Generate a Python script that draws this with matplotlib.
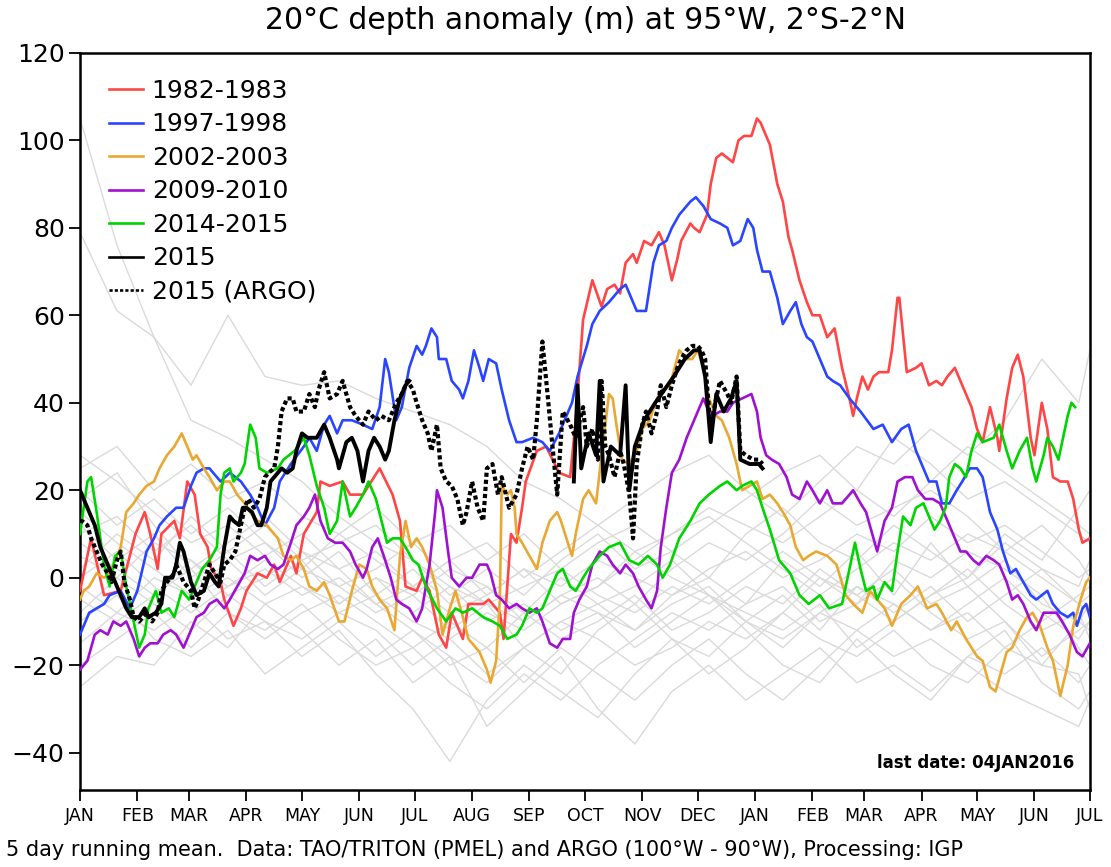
import numpy as np
import matplotlib
matplotlib.use("Agg")
import matplotlib.pyplot as plt
from matplotlib.lines import Line2D

# x axis: days since 1 Jan of the first year (18 months shown)
month_days = [0, 31, 59, 90, 120, 151, 181, 212, 243, 273, 304, 334,
              365, 396, 424, 455, 485, 516, 546]
month_labels = ["JAN", "FEB", "MAR", "APR", "MAY", "JUN", "JUL", "AUG", "SEP",
                "OCT", "NOV", "DEC", "JAN", "FEB", "MAR", "APR", "MAY", "JUN", "JUL"]

# ---- 1982-1983 ----
red_day = [0, 6, 13, 22, 30, 35, 38, 42, 44, 51, 54, 58, 62, 65, 69, 71, 76, 78, 83, 87,
           90, 96, 101, 105, 108, 114, 117, 121, 128, 130, 135, 142, 146, 153, 162, 169,
           173, 176, 182, 185, 189, 194, 198, 201, 207, 210, 218, 221, 227, 229, 233, 236,
           239, 241, 247, 252, 259, 265, 268, 272, 277, 282, 285, 289, 292, 295, 299, 301,
           305, 309, 313, 316, 320, 323, 325, 330, 332, 335, 339, 341, 344, 347, 353, 356,
           359, 363, 366, 368, 373, 377, 380, 383, 385, 389, 393, 396, 400, 404, 408, 412,
           416, 418, 420, 423, 426, 429, 432, 437, 439, 442, 443, 447, 452, 455, 459, 463,
           466, 469, 473, 477, 482, 485, 488, 492, 496, 497, 501, 504, 507, 510, 514, 516,
           520, 523, 526, 530, 534, 537, 540, 542, 546]
red_val = [-3, 9, -4, -3, 10, 15, 10, 2, 10, 13, 9, 22, 19, 10, 7, 2, -1, -5, -11, -7,
           -3, 1, 0, 3, -1, 5, 1, 10, 15, 22, 21, 22, 19, 19, 25, 19,
           13, -2, -3, 0, -3, -13, -16, -8, -14, -6, -6, -5, -8, -14, 10, 8,
           16, 22, 29, 30, 24, 23, 36, 59, 68, 62, 66, 67, 65, 72, 74, 72,
           77, 76, 79, 76, 68, 73, 77, 81, 80, 79, 83, 90, 96, 97, 95, 100,
           101, 101, 105, 104, 99, 90, 86, 78, 75, 68, 63, 60, 60, 55, 57, 48,
           41, 37, 41, 46, 43, 46, 47, 47, 52, 64, 64, 47, 48, 49, 44, 45,
           44, 46, 48, 44, 39, 34, 31, 39, 32, 29, 41, 48, 51, 46, 32, 28,
           40, 34, 23, 22, 22, 18, 11, 8, 9]

# ---- 1997-1998 ----
blue_day = [0, 5, 13, 16, 22, 27, 31, 36, 40, 43, 47, 52, 56, 60, 63, 67, 70, 76, 81, 87,
            92, 96, 100, 105, 108, 114, 121, 124, 128, 132, 135, 139, 142, 147, 153, 158,
            162, 165, 167, 171, 174, 178, 182, 185, 187, 190, 193, 194, 198, 201, 205, 207,
            210, 213, 216, 218, 221, 225, 228, 232, 236, 239, 245, 250, 254, 259, 263, 266,
            269, 274, 277, 281, 286, 292, 295, 298, 301, 306, 310, 313, 317, 320, 324, 330,
            333, 337, 341, 346, 350, 353, 357, 361, 364, 366, 369, 373, 377, 380, 384, 387,
            390, 393, 396, 400, 404, 407, 411, 416, 422, 429, 434, 439, 444, 448, 452, 456,
            459, 463, 466, 470, 474, 477, 481, 485, 488, 492, 496, 499, 503, 506, 510, 514,
            517, 523, 526, 530, 534, 537, 539, 542, 544, 546]
blue_val = [-13, -8, -6, -4, -3, -7, -3, 6, 9, 12, 14, 16, 16, 21, 24, 25, 25, 22, 24, 22,
            19, 16, 12, 16, 22, 26, 30, 32, 29, 35, 37, 33, 36, 36, 35, 34,
            39, 50, 47, 36, 39, 48, 53, 51, 53, 57, 55, 50, 50, 45, 43, 41,
            45, 52, 48, 45, 50, 49, 43, 36, 31, 31, 32, 31, 29, 33, 37, 40,
            46, 53, 58, 61, 63, 66, 67, 64, 61, 61, 72, 76, 77, 80, 83, 86,
            87, 85, 82, 81, 80, 76, 77, 82, 80, 75, 70, 70, 64, 58, 61, 63,
            58, 55, 54, 50, 46, 45, 44, 41, 38, 34, 35, 31, 34, 35, 29, 25,
            22, 22, 17, 17, 20, 22, 25, 25, 23, 15, 11, 6, 1, 2, -1, -4,
            -5, -3, -6, -8, -9, -8, -11, -7, -6, -9]

# ---- 2002-2003 ----
orange_day = [0, 2, 5, 9, 13, 16, 22, 25, 29, 32, 36, 40, 43, 47, 51, 55, 58, 61, 63, 67,
              70, 74, 78, 81, 85, 89, 92, 96, 101, 107, 110, 114, 117, 121, 124, 128, 132,
              135, 140, 143, 147, 151, 155, 158, 162, 166, 170, 173, 176, 179, 182, 185,
              189, 193, 196, 200, 203, 207, 210, 216, 220, 222, 225, 227, 228, 231, 233,
              235, 236, 239, 243, 247, 250, 254, 258, 260, 263, 266, 268, 272, 275, 279,
              282, 286, 288, 290, 293, 297, 301, 304, 308, 312, 315, 319, 324, 328, 331,
              334, 337, 340, 344, 347, 351, 355, 358, 362, 366, 369, 373, 377, 380, 384,
              387, 391, 394, 398, 404, 409, 414, 418, 423, 427, 431, 435, 439, 444, 449,
              453, 458, 463, 466, 471, 474, 479, 485, 488, 492, 495, 497, 501, 504, 508,
              512, 515, 519, 523, 526, 530, 534, 537, 541, 544, 546]
orange_val = [-5, -3, -2, 1, 0, 1, 7, 15, 17, 19, 21, 22, 25, 28, 30, 33, 30, 27, 28, 25,
              23, 20, 22, 22, 19, 17, 15, 13, 12, 9, 5, 4, 5, 2, -2, -3, -1,
              -4, -10, -10, -3, 3, 2, -2, -5, -7, -12, 5, 13, 7, 9, 7,
              3, -3, -13, -7, -3, -9, -14, -17, -21, -24, -19, -5, 21, 19, 20,
              16, 10, 8, 5, 2, 8, 13, 15, 13, 9, 5, 10, 18, 20, 17,
              28, 42, 41, 35, 27, 26, 29, 34, 36, 41, 43, 44, 52, 50, 50,
              52, 48, 41, 37, 36, 32, 26, 20, 21, 22, 18, 19, 17, 15, 12,
              7, 4, 5, 6, 5, 3, -4, -6, -8, -3, -5, -7, -11, -6, -4,
              -2, -7, -6, -8, -12, -10, -14, -18, -19, -25, -26, -23, -17, -16, -12,
              -9, -8, -11, -16, -19, -27, -20, -11, -5, -1, 0]

# ---- 2009-2010 ----
purple_day = [0, 4, 8, 11, 15, 18, 22, 25, 29, 32, 35, 38, 42, 45, 49, 52, 56, 60, 63, 67,
              70, 74, 78, 81, 85, 89, 92, 96, 100, 103, 107, 110, 114, 117, 121, 124, 127,
              130, 134, 138, 142, 146, 149, 153, 155, 158, 161, 165, 168, 171, 174, 178,
              182, 185, 189, 192, 193, 196, 199, 201, 205, 209, 212, 216, 220, 222, 225,
              228, 232, 236, 239, 243, 247, 250, 254, 258, 261, 265, 267, 270, 274, 277,
              281, 285, 288, 292, 295, 299, 302, 306, 309, 312, 314, 317, 320, 324, 328,
              332, 337, 339, 342, 346, 350, 353, 358, 363, 366, 368, 371, 374, 378, 382,
              385, 389, 393, 396, 400, 404, 407, 412, 418, 422, 425, 429, 431, 435, 439,
              442, 446, 450, 453, 457, 461, 465, 469, 472, 476, 479, 483, 486, 490, 494,
              497, 501, 504, 507, 510, 514, 517, 521, 524, 528, 531, 535, 539, 542, 546]
purple_val = [-21, -19, -13, -12, -13, -10, -11, -10, -14, -18, -16, -15, -15, -13, -12, -13,
              -16, -12, -9, -8, -6, -5, -7, -5, -2, 1, 5, 4, 5, 3, 2, 3, 8, 12, 14, 16, 19,
              13, 9, 8, 8, 6, 3, 0, 2, 7, 9, 4, 0, -5, -6, -7,
              -10, -7, 3, 15, 20, 16, 6, 0, -2, 0, 0, 3, 3, 1, -4,
              -5, -7, -6, -7, -8, -7, -10, -15, -16, -14, -14, -8, -5, -2, 3,
              6, 5, 3, 1, 3, 1, -2, -5, -7, -3, 7, 16, 24, 27, 32,
              36, 41, 39, 37, 38, 38, 40, 41, 42, 38, 32, 28, 27, 26, 23,
              19, 18, 22, 20, 17, 20, 17, 17, 20, 17, 15, 9, 6, 13, 16,
              22, 23, 23, 20, 18, 18, 17, 13, 10, 6, 6, 4, 3, 5, 4,
              3, -1, -5, -4, -6, -10, -12, -8, -8, -8, -10, -13, -17, -18, -15]

# ---- 2014-2015 ----
green_day = [0, 4, 6, 9, 13, 16, 19, 22, 25, 28, 32, 35, 37, 41, 44, 48, 51, 55, 59, 62,
             66, 70, 74, 76, 78, 81, 83, 87, 89, 92, 95, 97, 101, 107, 110, 116, 121, 124,
             128, 132, 135, 139, 142, 146, 149, 153, 156, 160, 166, 169, 173, 176, 180,
             183, 187, 193, 198, 203, 207, 212, 218, 223, 227, 231, 236, 239, 243, 247,
             250, 254, 258, 261, 265, 268, 272, 275, 281, 286, 292, 297, 302, 307, 312,
             315, 319, 324, 330, 335, 340, 346, 350, 355, 358, 363, 366, 369, 373, 378,
             384, 389, 394, 400, 405, 412, 416, 419, 422, 425, 429, 431, 435, 439, 442,
             445, 449, 452, 456, 459, 462, 465, 468, 470, 473, 476, 479, 482, 485, 488,
             494, 497, 501, 504, 508, 512, 515, 517, 521, 523, 526, 529, 531, 534, 536, 538]
green_val = [10, 22, 23, 15, 3, -2, 5, 6, -2, -8, -16, -13, -7, -3, -8, -7, -9, -3, -5, -2,
             2, 4, 7, 19, 24, 25, 22, 24, 26, 35, 32, 25, 24, 25, 27, 29, 32, 28,
             21, 16, 10, 13, 22, 14, 16, 19, 22, 18, 8, 9, 9, 7, 4,
             3, -2, -7, -10, -7, -8, -7, -9, -10, -11, -14, -13, -11, -7, -8,
             -7, -3, 1, 2, -2, -3, 0, 2, 5, 7, 8, 4, 3, 5, 3,
             0, 3, 9, 13, 17, 19, 21, 22, 20, 21, 22, 20, 16, 11, 4,
             1, -4, -6, -4, -7, -6, 2, 8, 2, -3, -2, -5, -1, -3, 6,
             14, 12, 16, 17, 14, 11, 13, 16, 23, 26, 25, 23, 29, 33, 31,
             32, 35, 29, 25, 29, 32, 25, 22, 28, 32, 30, 27, 31, 37, 40, 39]

# ---- 2015 (TAO/TRITON) ----
tao_day = [0, 1, 4, 8, 11, 15, 18, 22, 25, 28, 32, 35, 37, 41, 44, 46, 50, 52, 54, 56,
           60, 63, 67, 70, 73, 75, 78, 81, 83, 86, 88, 90, 93, 96, 98, 101, 103, 107,
           109, 112, 115, 117, 120, 123, 126, 128, 132, 135, 139, 140, 144, 147, 150,
           153, 156, 159, 162, 165, 167, 170, 173, 176, 178]
tao_val = [20, 19, 16, 12, 7, 3, 0, -4, -7, -9, -9, -7, -9, -8, -6, 0, 0, 3, 8, 6,
           -1, -4, -3, 1, -1, -2, 7, 14, 13, 12, 16, 16, 15, 12, 12, 16, 22, 24,
           25, 24, 25, 29, 33, 32, 32, 32, 35, 32, 27, 25, 31, 32, 29,
           22, 29, 32, 30, 27, 29, 36, 41, 44, 45]
tao_late_day = [267, 269, 271, 275, 279, 281, 283, 287, 292, 295, 297, 300, 305, 311, 316,
                321, 327, 332, 335, 338, 341, 344, 348, 352, 355, 357, 362, 367, 369]
tao_late_val = [22, 44, 25, 33, 28, 45, 22, 30, 28, 44, 20, 30, 36, 40, 43,
                46, 50, 52, 52, 46, 31, 42, 38, 41, 45, 27, 26, 26, 25]

# ---- 2015 (ARGO) ----
argo_day = [0, 1, 4, 6, 9, 12, 15, 17, 20, 22, 24, 27, 29, 32, 36, 39, 42, 44, 47, 51,
            52, 56, 60, 62, 64, 67, 70, 73, 76, 78, 81, 84, 86, 89, 91, 94, 97, 100, 102,
            105, 107, 109, 112, 115, 117, 121, 124, 127, 129, 132, 135, 139, 142, 146,
            149, 153, 156, 160, 163, 167, 171, 174, 177, 180, 182, 185, 188, 190, 193,
            195, 198, 201, 204, 207, 209, 212, 215, 218, 220, 223, 226, 228, 232, 236,
            239, 242, 245, 247, 250, 253, 255, 258, 261, 265, 268, 272, 274, 277, 280,
            282, 284, 286, 289, 292, 294, 297, 299, 301, 304, 306, 309, 312, 314, 317,
            320, 323, 325, 328, 331, 334, 336, 338, 339, 341, 343, 346, 350, 352, 355,
            357, 360, 364, 367, 369]
argo_val = [13, 13, 12, 9, 6, 3, 1, -1, 4, 6, -1, -5, -9, -10, -8, -10, -8, -3, -1, 1,
            3, -1, -3, -7, -5, -1, 3, 1, -1, 3, 4, 6, 10, 16, 18, 16, 18, 23, 24,
            25, 30, 38, 41, 41, 38, 38, 42, 39, 43, 47, 41, 42, 45, 39,
            37, 35, 38, 36, 37, 36, 40, 42, 45, 43, 40, 36, 33, 29, 35,
            25, 22, 21, 18, 12, 15, 22, 16, 13, 25, 26, 19, 23, 16, 19,
            25, 30, 27, 36, 54, 41, 32, 19, 38, 35, 32, 39, 30, 34, 27,
            45, 30, 28, 23, 29, 26, 19, 9, 26, 35, 38, 33, 38, 44, 39,
            44, 48, 50, 52, 53, 53, 52, 50, 44, 34, 39, 45, 42, 40, 46,
            29, 28, 27, 27, 26]

# ---- other years (grey) ----
gray_day = [0, 20, 40, 60, 80, 100, 120, 140, 160, 180, 200, 220, 240, 260, 280, 300,
            320, 340, 360, 380, 400, 420, 440, 460, 480, 500, 520, 540, 546]
gray_a = [105, 76, 55, 36, 32, 27, 22, 14, 8, 4, -2, -6, -10, -4, -8, -12,
          -6, -2, -10, -14, -8, -2, -6, -12, -8, -16, -10, -4, -2]
gray_b = [79, 61, 55, 44, 60, 46, 44, 45, 41, 38, 35, 30, 22, 18, 12, 6,
          10, 14, 8, 2, -4, 2, 8, 4, 10, 6, 0, -6, -4]
gray_c = [28, 22, 15, 8, 12, 5, 10, 2, 6, -2, 4, 8, 0, 6, 12, 18,
          24, 28, 20, 14, 22, 30, 26, 34, 28, 36, 50, 40, 52]
gray_d = [15, 8, 2, -4, 0, -6, -2, -8, -4, -10, -14, -8, -12, -6, -2, 4,
          10, 16, 12, 8, 14, 20, 32, 26, 18, 22, 16, 10, 8]
gray_e = [-5, -10, -4, 2, -8, -12, -6, -14, -20, -16, -24, -30, -22, -28, -20, -14,
          -8, -12, -6, -2, -10, -6, 0, -8, -14, -10, -18, -12, -10]
gray_f = [5, 0, 8, 4, -2, 2, -4, 0, -6, -2, -8, -4, 2, -2, 4, 0,
          -4, 2, 6, 0, 4, 10, 6, 14, 8, 12, 6, 0, 2]
gray_g = [-15, -8, -12, -6, -14, -10, -18, -12, -22, -30, -42, -28, -20, -26, -32, -22,
          -14, -18, -10, -16, -8, -12, -18, -14, -20, -26, -30, -34, -28]
gray_h = [10, 14, 6, 12, 4, 8, 0, 6, -4, 2, -6, -2, -10, -4, 0, -6,
          2, 8, 4, 10, 18, 12, 16, 20, 14, 6, 12, 4, 0]
gray_i = [-25, -18, -20, -10, -16, -6, -12, -20, -14, -24, -18, -34, -26, -18, -30, -38,
          -26, -20, -28, -22, -16, -24, -20, -26, -18, -22, -16, -24, -20]
gray_j = [20, 12, 18, 10, 16, 8, 2, 10, 4, -2, 4, -4, 2, -6, -2, 6,
          0, -4, -8, -12, -6, -16, -10, -4, 0, 8, 2, -6, -8]
gray_k = [0, 6, -2, -8, -2, 4, -2, -6, 0, -8, -2, -10, -6, -12, -8, -16,
          -10, -4, -12, -20, -24, -14, -22, -28, -18, -12, -24, -30, -26]
gray_l = [25, 30, 20, 26, 18, 22, 14, 10, 16, 8, 12, 4, 10, 2, 8, 12,
          6, 12, 18, 24, 28, 20, 14, 22, 30, 24, 18, 12, 10]
gray_m = [-10, -4, -14, -18, -12, -22, -16, -10, -18, -12, -20, -16, -8, -14, -10, -4,
          -12, -8, -2, -6, 2, -4, -10, -4, 2, -6, -12, -8, -14]
gray_n = [8, 2, -4, 4, -4, 0, 6, -2, 2, 8, 0, -6, -2, 2, -4, -8,
          -2, -6, 0, 6, 0, -6, 4, 0, 6, 2, -4, -16, -20]
gray_o = [-20, -14, -8, -16, -8, -14, -8, -4, -10, -16, -10, -16, -24, -16, -22, -28,
          -20, -14, -22, -28, -20, -12, -6, -12, -6, 0, -8, -14, -10]
gray_p = [12, 4, 10, 0, 6, -2, 4, -6, 0, -4, -12, -6, -16, -10, -6, -12,
          -4, 0, -6, 4, -2, 6, -4, 8, -2, 4, -6, -10, -6]
gray_q = [-8, 0, -6, -12, -4, -10, -14, -8, -12, -20, -14, -22, -16, -10, -14, -20,
          -16, -10, -14, -8, -14, -18, -12, -20, -24, -16, -20, -10, -12]
gray_r = [2, 10, 4, 14, 6, 12, 4, 8, 12, 4, -4, 2, -4, 4, 10, 2,
          6, 0, 10, 16, 8, 4, 12, 6, 0, 10, 4, 16, 20]
gray_s = [-2, -8, 0, -4, 4, -4, 2, -2, -8, -4, 2, -2, -8, 0, -6, -2,
          4, -4, -10, -4, -12, -2, -8, -2, -10, -4, 2, -2, 4]
gray_t = [18, 24, 12, 2, 8, 14, 6, 2, -6, -12, -18, -24, -16, -22, -12, -6,
          -14, -22, -16, -8, 0, -4, 2, -6, -2, -10, -20, -22, -30]

gray_lines = [gray_a, gray_b, gray_c, gray_d, gray_e, gray_f, gray_g, gray_h,
              gray_i, gray_j, gray_k, gray_l, gray_m, gray_n, gray_o,
              gray_p, gray_q, gray_r, gray_s, gray_t]

events = [
    ("1982-1983", red_day, red_val, "#ff4545"),
    ("1997-1998", blue_day, blue_val, "#2a45ff"),
    ("2002-2003", orange_day, orange_val, "#e8a832"),
    ("2009-2010", purple_day, purple_val, "#a010d0"),
    ("2014-2015", green_day, green_val, "#00d400"),
]


fig = plt.figure(figsize=(11.11, 8.67), dpi=100)
ax = fig.add_axes([0.072, 0.089, 0.909, 0.850])

# background years
for g in gray_lines:
    ax.plot(gray_day, g, color="#dadada", lw=1.0, zorder=1)

# highlighted events
for name, d, v, c in events:
    ax.plot(d, v, color=c, lw=1.9, zorder=3)

# 2015
ax.plot(argo_day, argo_val, color="black", lw=3.0, dashes=(1.0, 0.7), zorder=5)
ax.plot(tao_day, tao_val, color="black", lw=2.8, zorder=6)
ax.plot(tao_late_day, tao_late_val, color="black", lw=2.8, zorder=6)

ax.set_xlim(0, 546)
ax.set_ylim(-48.5, 120)
ax.set_xticks(month_days)
ax.set_xticklabels(month_labels, fontsize=12.5)
ax.set_yticks(np.arange(-40, 121, 20))
ax.tick_params(axis="y", labelsize=18, length=8, width=1.3, direction="out", pad=3)
ax.tick_params(axis="x", length=8, width=1.3, direction="out", pad=4)
for s in ax.spines.values():
    s.set_linewidth(1.8)

# legend
handles = [Line2D([], [], color=c, lw=1.9) for _, _, _, c in events]
handles.append(Line2D([], [], color="black", lw=1.9))
handles.append(Line2D([], [], color="black", lw=1.9, dashes=(1.2, 0.8)))
labels = [e[0] for e in events] + ["2015", "2015 (ARGO)"]
ax.legend(handles, labels, loc="upper left", bbox_to_anchor=(0.014, 0.985),
          frameon=False, fontsize=18, handlelength=1.35, handletextpad=0.35,
          labelspacing=0.38, borderaxespad=0.2)

ax.text(0.985, 0.024, "last date: 04JAN2016", transform=ax.transAxes,
        ha="right", va="bottom", fontsize=12, fontweight="bold")

fig.text(0.527, 0.976, "20°C depth anomaly (m) at 95°W, 2°S-2°N",
         ha="center", va="center", fontsize=21.5)
fig.text(0.005, 0.02, "5 day running mean.  Data: TAO/TRITON (PMEL) and ARGO (100°W - 90°W), Processing: IGP",
         ha="left", va="center", fontsize=15)

fig.savefig("out.png", dpi=100)
